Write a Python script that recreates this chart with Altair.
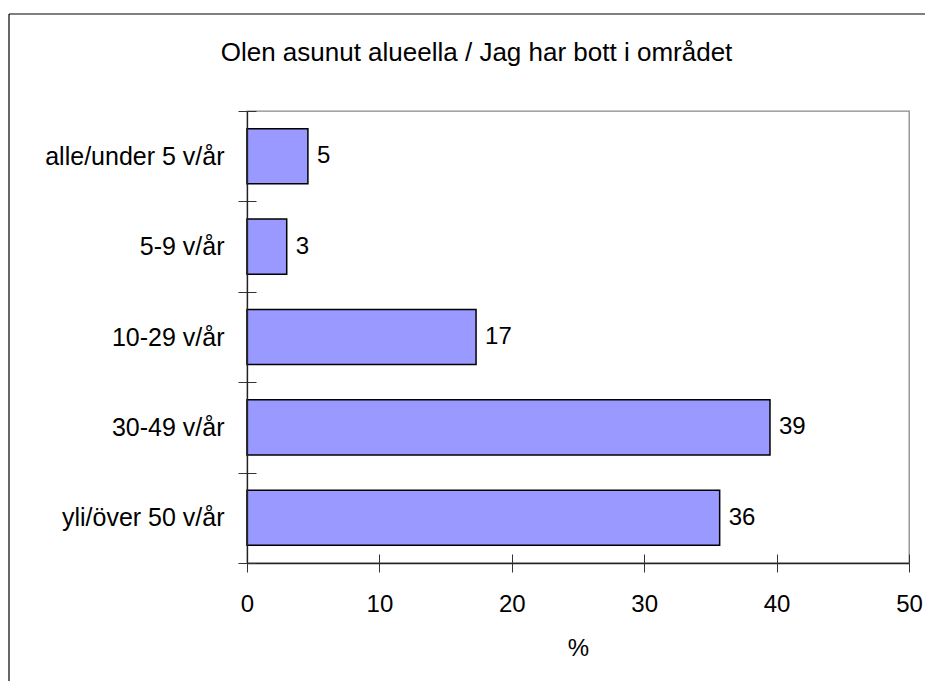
import altair as alt
import pandas as pd

categories = ["alle/under 5 v/år", "5-9 v/år", "10-29 v/år", "30-49 v/år", "yli/över 50 v/år"]
values = [4.6, 3.0, 17.3, 39.5, 35.7]
labels = ["5", "3", "17", "39", "36"]
x_ticks = [0, 10, 20, 30, 40, 50]
title_text = "Olen asunut alueella / Jag har bott i området"
x_title = "%"

df = pd.DataFrame({"cat": categories, "value": values, "label": labels})

FONT = "Liberation Sans"
W, H = 662, 452

xscale = alt.Scale(domain=[0, 50], nice=False, zero=True)
yscale = alt.Scale(domain=categories, paddingInner=0, paddingOuter=0)

base = alt.Chart(df)

bars = base.mark_bar(fill="#9999FF", stroke="#000000", strokeWidth=1.5,
                     height=alt.RelativeBandSize(band=0.61)).encode(
    x=alt.X("value:Q", scale=xscale,
            axis=alt.Axis(values=x_ticks, orient="bottom", title=x_title, grid=False,
                          domainColor="#222222", domainWidth=1.3, tickColor="#333333",
                          tickSize=9, tickWidth=1, labelPadding=20, titlePadding=20,
                          labelFlush=False, labelOverlap=False,
                          labelFontSize=24, titleFontSize=24, titleFontWeight="normal",
                          labelFont=FONT, titleFont=FONT, labelColor="#000000",
                          titleColor="#000000", zindex=1)),
    y=alt.Y("cat:N", scale=yscale, sort=categories,
            axis=alt.Axis(orient="left", title=None, tickBand="extent", grid=False,
                          domainColor="#222222", domainWidth=1.3, tickColor="#333333",
                          tickSize=9, tickWidth=1, labelPadding=14, labelFontSize=25,
                          labelFont=FONT, labelColor="#000000", zindex=1)),
)

texts = base.mark_text(align="left", baseline="middle", dx=9, fontSize=24,
                       font=FONT, color="#000000").encode(
    x=alt.X("value:Q", scale=xscale,
            axis=alt.Axis(values=x_ticks, orient="bottom", title=None, grid=False,
                          domain=False, labels=False, offset=-9, tickSize=9,
                          tickWidth=1, tickColor="#333333", zindex=1)),
    y=alt.Y("cat:N", scale=yscale, sort=categories,
            axis=alt.Axis(orient="left", title=None, tickBand="extent", grid=False,
                          domain=False, labels=False, offset=-9, tickSize=9,
                          tickWidth=1, tickColor="#333333", zindex=1)),
    text="label:N",
)

one = alt.Chart(pd.DataFrame({"k": [0]}))
frame_left = one.mark_rule(color="#000000", strokeWidth=1.2).encode(
    x=alt.value(-238), y=alt.value(-97), y2=alt.value(570))
frame_top = one.mark_rule(color="#000000", strokeWidth=1.2).encode(
    x=alt.value(-238), x2=alt.value(678), y=alt.value(-97))
title = one.mark_text(align="center", baseline="middle", fontSize=26, font=FONT,
                      color="#000000").encode(
    x=alt.value(229.5), y=alt.value(-58), text=alt.value(title_text))

chart = alt.layer(bars, texts, frame_left, frame_top, title).resolve_axis(
    x="independent", y="independent"
).properties(
    width=W, height=H,
    padding={"left": 0, "top": 5, "right": 0, "bottom": 0},
).configure_view(stroke="#888888", strokeWidth=1.3)

chart.save("out.html", embed_options={"renderer": "svg", "actions": False})
